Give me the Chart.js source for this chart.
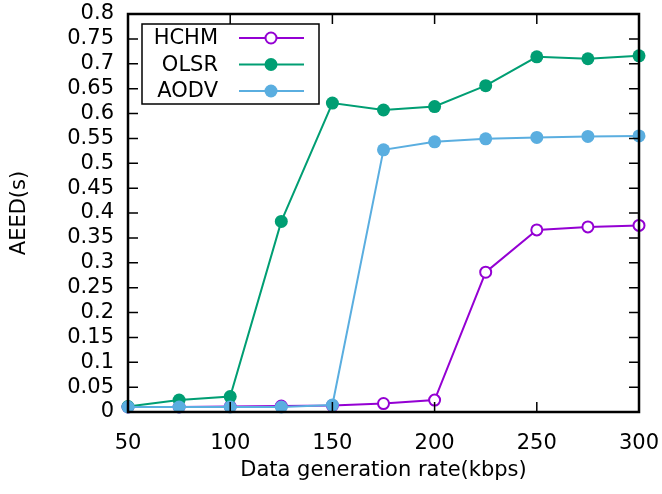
<!DOCTYPE html>
<html>
<head>
<meta charset="utf-8">
<script src="https://cdn.jsdelivr.net/npm/chart.js@4.4.1/dist/chart.umd.min.js"></script>
<style>
  html, body { margin: 0; padding: 0; background: #fff; }
  #wrap { width: 662px; height: 494px; }
</style>
</head>
<body>
<div id="wrap"><canvas id="aeedChart" width="662" height="494"></canvas></div>
<script>
const rates = [50, 75, 100, 125, 150, 175, 200, 225, 250, 275, 300];
const hchm = [0.010, 0.010, 0.011, 0.012, 0.013, 0.017, 0.024, 0.281, 0.366, 0.372, 0.375];
const olsr = [0.011, 0.024, 0.031, 0.383, 0.621, 0.607, 0.614, 0.656, 0.714, 0.710, 0.716];
const aodv = [0.010, 0.010, 0.010, 0.010, 0.014, 0.527, 0.543, 0.549, 0.552, 0.554, 0.555];
const seriesNames = ['HCHM', 'OLSR', 'AODV'];
const seriesColors = ['#9400d3', '#009e73', '#5aaee0'];

const FONT = 'DejaVu Sans';
const FSIZE = 21;

function pts(vals) {
    return rates.map((r, i) => ({ x: r, y: vals[i] }));
}

// gnuplot style frame: box border with inward ticks on all four sides
const framePlugin = {
    id: 'frame',
    afterDatasetsDraw(chart) {
        const { ctx, chartArea: a, scales } = chart;
        ctx.save();
        ctx.strokeStyle = '#000';
        ctx.lineWidth = 1.5;
        const len = 10;
        ctx.beginPath();
        scales.x.ticks.forEach(t => {
            const px = scales.x.getPixelForValue(t.value);
            ctx.moveTo(px, a.bottom); ctx.lineTo(px, a.bottom - len);
            ctx.moveTo(px, a.top); ctx.lineTo(px, a.top + len);
        });
        scales.y.ticks.forEach(t => {
            const py = scales.y.getPixelForValue(t.value);
            ctx.moveTo(a.left, py); ctx.lineTo(a.left + len, py);
            ctx.moveTo(a.right, py); ctx.lineTo(a.right - len, py);
        });
        ctx.stroke();
        ctx.lineWidth = 2.5;
        ctx.strokeRect(a.left, a.top, a.right - a.left, a.bottom - a.top);
        ctx.restore();
    }
};

// legend box in the top left corner, text right aligned like gnuplot
const keyPlugin = {
    id: 'key',
    afterDraw(chart) {
        const { ctx, chartArea: a } = chart;
        const x0 = a.left + 14, y0 = a.top + 10, w = 177, h = 80;
        ctx.save();
        ctx.fillStyle = '#fff';
        ctx.fillRect(x0, y0, w, h);
        ctx.strokeStyle = '#000';
        ctx.lineWidth = 1.5;
        ctx.strokeRect(x0, y0, w, h);
        ctx.font = FSIZE + 'px "' + FONT + '"';
        ctx.textAlign = 'right';
        ctx.textBaseline = 'middle';
        chart.data.datasets.forEach((ds, i) => {
            const cy = y0 + 14 + i * 26.5;
            ctx.fillStyle = '#000';
            ctx.fillText(ds.label, x0 + 76, cy + 1);
            ctx.strokeStyle = ds.borderColor;
            ctx.lineWidth = 2;
            ctx.beginPath();
            ctx.moveTo(x0 + 97, cy); ctx.lineTo(x0 + 162, cy);
            ctx.stroke();
            ctx.beginPath();
            ctx.arc(x0 + 129, cy, ds.pointRadius, 0, Math.PI * 2);
            if (ds.pointBackgroundColor === '#fff') {
                ctx.fillStyle = '#fff';
                ctx.fill();
                ctx.stroke();
            } else {
                ctx.fillStyle = ds.borderColor;
                ctx.fill();
            }
        });
        ctx.restore();
    }
};

new Chart(document.getElementById('aeedChart'), {
    type: 'line',
    data: {
        datasets: [
            { label: seriesNames[0], data: pts(hchm), borderColor: seriesColors[0], pointBackgroundColor: '#fff',
              pointBorderColor: seriesColors[0], pointBorderWidth: 2, pointRadius: 5.5, borderWidth: 2, order: 3, clip: false },
            { label: seriesNames[1], data: pts(olsr), borderColor: seriesColors[1], pointBackgroundColor: seriesColors[1],
              pointBorderColor: seriesColors[1], pointBorderWidth: 0, pointRadius: 6.5, borderWidth: 2, order: 2, clip: false },
            { label: seriesNames[2], data: pts(aodv), borderColor: seriesColors[2], pointBackgroundColor: seriesColors[2],
              pointBorderColor: seriesColors[2], pointBorderWidth: 0, pointRadius: 6.5, borderWidth: 2, order: 1, clip: false }
        ]
    },
    options: {
        responsive: false,
        animation: false,
        layout: { padding: { top: 14, right: 23, left: 0, bottom: 0 } },
        plugins: { legend: { display: false }, tooltip: { enabled: false } },
        scales: {
            x: {
                type: 'linear', min: 50, max: 300,
                grid: { display: false },
                border: { display: false },
                ticks: { stepSize: 50, color: '#000', padding: 11, font: { family: FONT, size: FSIZE } },
                title: { display: true, text: 'Data generation rate(kbps)', color: '#000',
                         font: { family: FONT, size: FSIZE }, padding: { top: 0, bottom: 11 } },
                afterFit(s) { s.height = 82; s.paddingLeft = 0; s.paddingRight = 0; }
            },
            y: {
                min: 0, max: 0.8,
                grid: { display: false },
                border: { display: false },
                ticks: { stepSize: 0.05, autoSkip: false, color: '#000', padding: 6, font: { family: FONT, size: FSIZE },
                         callback: v => String(Number(v.toFixed(2))) },
                title: { display: true, text: 'AEED(s)', color: '#000',
                         font: { family: FONT, size: FSIZE }, padding: { top: 7, bottom: 0 } },
                afterFit(s) { s.width = 128; s.paddingTop = 0; s.paddingBottom = 0; }
            }
        }
    },
    plugins: [framePlugin, keyPlugin]
});
</script>
</body>
</html>
